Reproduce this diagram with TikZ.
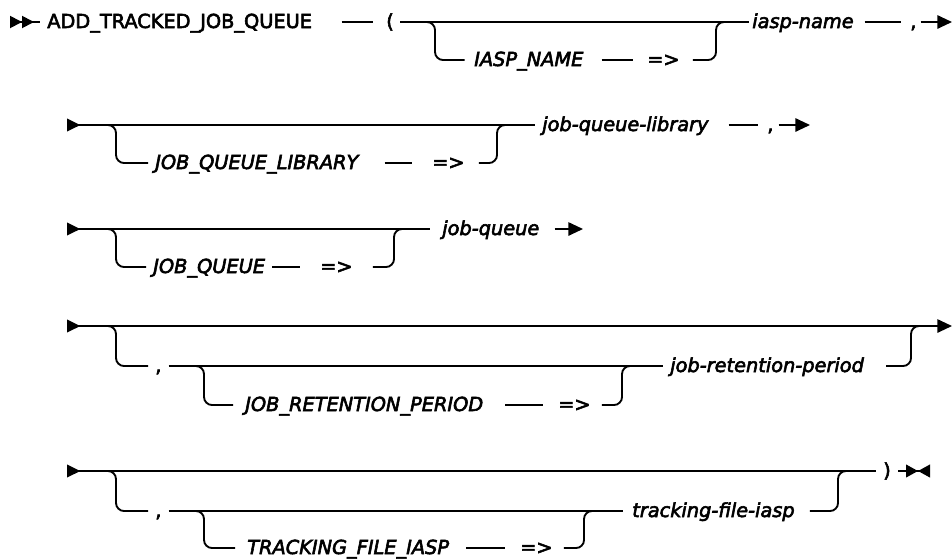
\documentclass[tikz,border=0pt]{standalone}
\usepackage{fontspec}
\setmainfont{DejaVu Sans}[FakeBold=3]
\usetikzlibrary{arrows.meta}

\begin{document}
\begin{tikzpicture}[x=0.75pt,y=-0.75pt,
		rail/.style={line width=1.4pt,rounded corners=6pt},
		word/.style={anchor=west,inner xsep=0pt,inner ysep=0pt,text height=10pt,text depth=1pt,font=\fontsize{14.5}{17}\selectfont},
		kw/.style={word,font=\fontsize{14.5}{17}\selectfont\itshape},
		head/.style={-{Triangle[length=11pt,width=10pt]}},
		lead/.style={{Triangle[reversed,length=10pt,width=9.5pt]}-}]
	\useasboundingbox (0,0) rectangle (952,558);
	% row 1
	\coordinate (s1) at (10,22);
	\coordinate (f1) at (435,22);
	\coordinate (j1) at (716,22);
	\coordinate (e1) at (952,22);
	\node[word] (add) at (47,22) {ADD\_TRACKED\_JOB\_QUEUE};
	\node[word] (lp) at (386,22) {(};
	\node[kw] (kw1) at (474,60) {IASP\_NAME};
	\node[word] (a1) at (647,60) {=>};
	\node[kw] (pn1) at (752,22) {iasp-name};
	\node[word] (c1) at (910,22) {,};
	\draw[rail,{Triangle[reversed,length=9pt,width=9pt,sep=0pt]Triangle[reversed,length=9pt,width=9pt]}-,shorten >=5pt] (s1) -- (add.west);
	\draw[rail,shorten <=22pt,shorten >=10pt] (add.east) -- (lp.west);
	\draw[rail,shorten <=4.5pt,shorten >=2pt] (lp.east) -- (pn1.west);
	\draw[rail,shorten >=7pt] ([xshift=-9pt]f1) -- (f1) |- (kw1.west);
	\draw[rail,shorten <=13.5pt,shorten >=10.5pt] (kw1.east) -- (a1.west);
	\draw[rail,shorten <=9.75pt] (a1.east) -| (j1) -- ([xshift=9pt]j1);
	\draw[rail,shorten <=8pt,shorten >=7pt] (pn1.east) -- (c1.west);
	\draw[rail,head,shorten <=3pt] (c1.east) -- (e1);
	% row 2
	\coordinate (s2) at (67,125);
	\coordinate (f2) at (116,125);
	\coordinate (j2) at (497,125);
	\coordinate (e2) at (810,125);
	\node[kw] (kw2) at (155,163) {JOB\_QUEUE\_LIBRARY};
	\node[word] (a2) at (432,163) {=>};
	\node[kw] (pn2) at (542,125) {job-queue-library};
	\node[word] (c2) at (767,125) {,};
	\draw[rail,lead,shorten >=5.25pt] (s2) -- (pn2.west);
	\draw[rail,shorten >=5.25pt] ([xshift=-9pt]f2) -- (f2) |- (kw2.west);
	\draw[rail,shorten <=19.5pt,shorten >=15pt] (kw2.east) -- (a2.west);
	\draw[rail,shorten <=10.5pt] (a2.east) -| (j2) -- ([xshift=9pt]j2);
	\draw[rail,shorten <=15pt,shorten >=6.75pt] (pn2.east) -- (c2.west);
	\draw[rail,head,shorten <=3.75pt] (c2.east) -- (e2);
	% row 3
	\coordinate (s3) at (67,229);
	\coordinate (f3) at (116,229);
	\coordinate (j3) at (394,229);
	\coordinate (e3) at (583,229);
	\node[kw] (kw3) at (153,267) {JOB\_QUEUE};
	\node[word] (a3) at (320,267) {=>};
	\node[kw] (pn3) at (442,229) {job-queue};
	\draw[rail,lead,shorten >=9pt] (s3) -- (pn3.west);
	\draw[rail,shorten >=5.25pt] ([xshift=-9pt]f3) -- (f3) |- (kw3.west);
	\draw[rail,shorten <=5.25pt,shorten >=15pt] (kw3.east) -- (a3.west);
	\draw[rail,shorten <=15pt] (a3.east) -| (j3) -- ([xshift=9pt]j3);
	\draw[rail,head,shorten <=11.25pt] (pn3.east) -- (e3);
	% row 4
	\coordinate (s4) at (67,326);
	\coordinate (f4) at (116,326);
	\coordinate (j4) at (911,326);
	\coordinate (e4) at (952,326);
	\coordinate (g4) at (204,366);
	\coordinate (h4) at (622,366);
	\node[word] (c4) at (155,366) {,};
	\node[kw] (kw4) at (245,405) {JOB\_RETENTION\_PERIOD};
	\node[word] (a4) at (558,405) {=>};
	\node[kw] (pn4) at (670,366) {job-retention-period};
	\draw[rail,{Triangle[reversed,length=10pt,width=9.5pt]}-{Triangle[length=11pt,width=10pt]}] (s4) -- (e4);
	\draw[rail,shorten >=5.25pt] ([xshift=-9pt]f4) -- (f4) |- (c4.west);
	\draw[rail,shorten <=5.25pt,shorten >=5.25pt] (c4.east) -- (pn4.west);
	\draw[rail,shorten >=9pt] ([xshift=-9pt]g4) -- (g4) |- (kw4.west);
	\draw[rail,shorten <=16.5pt,shorten >=11.25pt] (kw4.east) -- (a4.west);
	\draw[rail,shorten <=8.25pt] (a4.east) -| (h4) -- ([xshift=9pt]h4);
	\draw[rail,shorten <=16.5pt] (pn4.east) -| (j4) -- ([xshift=9pt]j4);
	% row 5
	\coordinate (s5) at (67,471);
	\coordinate (f5) at (116,471);
	\coordinate (j5) at (838,471);
	\coordinate (e5) at (930,471);
	\coordinate (g5) at (204,511);
	\coordinate (h5) at (584,511);
	\node[word] (c5) at (155,511) {,};
	\node[kw] (kw5) at (247,548) {TRACKING\_FILE\_IASP};
	\node[word] (a5) at (520,548) {=>};
	\node[kw] (pn5) at (632,511) {tracking-file-iasp};
	\node[word] (rp) at (883,471) {)};
	\draw[rail,lead,shorten >=5.25pt] (s5) -- (rp.west);
	\draw[rail,shorten >=5.25pt] ([xshift=-9pt]f5) -- (f5) |- (c5.west);
	\draw[rail,shorten <=5.25pt,shorten >=6.75pt] (c5.east) -- (pn5.west);
	\draw[rail,shorten >=9pt] ([xshift=-9pt]g5) -- (g5) |- (kw5.west);
	\draw[rail,shorten <=12.75pt,shorten >=11.25pt] (kw5.east) -- (a5.west);
	\draw[rail,shorten <=8.25pt] (a5.east) -| (h5) -- ([xshift=9pt]h5);
	\draw[rail,shorten <=11.25pt] (pn5.east) -| (j5) -- ([xshift=9pt]j5);
	\draw[rail,-{Triangle[length=9pt,width=9.5pt,sep=0pt]Triangle[reversed,length=9pt,width=9.5pt]},shorten <=5.25pt] (rp.east) -- (e5);
\end{tikzpicture}
\end{document}
